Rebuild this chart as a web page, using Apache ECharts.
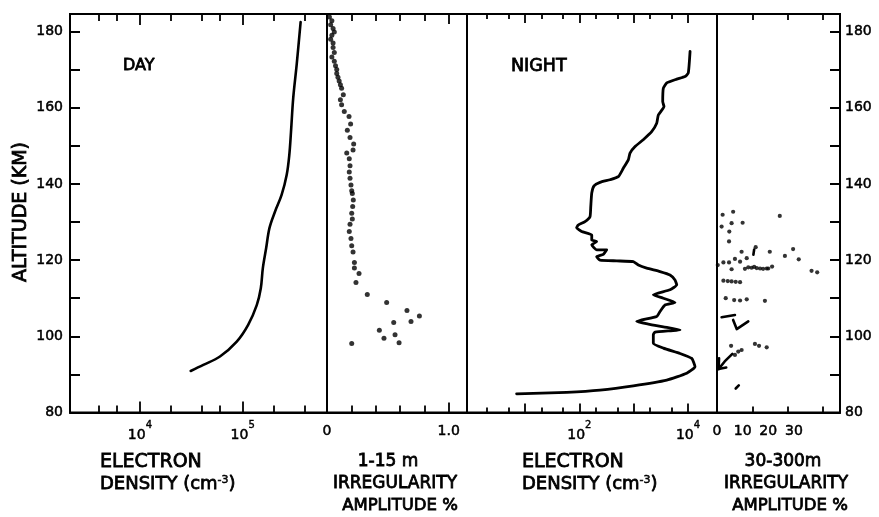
<!DOCTYPE html>
<html>
<head>
<meta charset="utf-8">
<script src="https://cdn.jsdelivr.net/npm/echarts@6/dist/echarts.min.js"></script>
<style>
  html, body { margin: 0; padding: 0; background: #fff; }
  #chart { width: 879px; height: 517px; }
</style>
</head>
<body>
<div id="chart"></div>
<script>
// ---- Altitude axis (km), shared by all four panels ----
const altitudeRange = [80, 184.6];
const altitudeTicks = [80, 90, 100, 110, 120, 130, 140, 150, 160, 170, 180];
const altitudeLabels = [80, 100, 120, 140, 160, 180];

// ---- Panel 1: daytime electron density (cm^-3) ----
const dayAltitude = [182.5, 171.3, 162.5, 153.7, 147.6, 142.4, 137.1, 132.7, 128.4, 123.1, 117.9, 112.6, 108.2, 103.0, 98.6, 94.7, 92.5, 90.9];
const dayDensity  = [3.66e5, 3.35e5, 3.10e5, 2.95e5, 2.84e5, 2.68e5, 2.39e5, 2.06e5, 1.82e5, 1.69e5, 1.57e5, 1.50e5, 1.37e5, 1.13e5, 8.75e4, 6.01e4, 4.14e4, 3.12e4];
const dayLogRange = [3.32, 5.82];
const dayMajorTicks = [1e4, 1e5];
const dayMinorTicks = [4e3, 6e3, 2e4, 4e4, 6e4, 2e5, 4e5];
const dayDecadeLabels = [4, 5];

// ---- Panel 2: 1-15 m irregularity amplitude (%), daytime ----
const smallAmpAltitude = [183.8, 182.8, 181.8, 180.8, 179.9, 179.0, 178.0, 177.0, 175.8, 174.5, 173.3, 172.2, 171.0, 170.0, 169.0, 168.0, 167.0, 166.0, 165.1,
  163.4, 162.1, 160.8, 159.0, 157.7, 155.7, 154.1, 152.2, 150.5, 148.9, 148.1, 146.6, 144.8, 143.1, 141.5, 139.7, 138.2, 137.5, 135.8, 134.1, 132.3, 130.8,
  129.4, 127.5, 125.7, 123.8, 122.1, 119.4, 117.9, 116.5, 114.1, 111.0, 108.9, 106.8, 105.3, 103.9, 103.6, 101.6, 100.4, 99.5, 98.3, 98.1];
const smallAmpPercent = [0.02, 0.04, 0.03, 0.05, 0.06, 0.04, 0.03, 0.05, 0.05, 0.06, 0.04, 0.06, 0.07, 0.08, 0.08, 0.09, 0.10, 0.11, 0.12,
  0.134, 0.11, 0.12, 0.142, 0.181, 0.194, 0.167, 0.189, 0.219, 0.214, 0.162, 0.183, 0.189, 0.183, 0.189, 0.197, 0.203, 0.208, 0.216, 0.211, 0.203, 0.208,
  0.189, 0.183, 0.197, 0.203, 0.214, 0.225, 0.225, 0.263, 0.238, 0.331, 0.490, 0.657, 0.759, 0.690, 0.548, 0.430, 0.559, 0.468, 0.592, 0.203];
const smallAmpRange = [0, 1.15];
const smallAmpMajorTicks = [1.0];
const smallAmpMinorTicks = [0.2, 0.4, 0.6, 0.8];
const smallAmpLabels = [0, 1.0];

// ---- Panel 3: night-time electron density (cm^-3) ----
const nightAltitude = [174.8, 169.1, 168.2, 167.5, 166.5, 165.1, 161.6, 160.3, 158.1, 155.9, 153.7, 151.6, 149.8, 148.1, 146.3, 144.1, 141.9, 141.1, 140.4,
  139.5, 137.6, 134.0, 131.4, 130.1, 129.2, 128.5, 127.5, 126.6, 125.3, 124.9, 124.0, 122.7, 122.7, 121.5, 120.9, 120.0, 119.8, 119.6, 118.7, 117.9,
  117.0, 116.1, 114.8, 113.5, 112.2, 110.9, 110.0, 108.9, 108.2, 106.5, 105.2, 103.9, 103.2, 102.5, 101.7, 101.1, 100.4, 98.2, 96.9, 95.5, 94.2,
  92.0, 90.3, 88.5, 87.0, 85.9, 85.3, 85.0, 84.9];
const nightDensity = [10900, 10100, 8800, 6200, 4060, 3510, 3420, 3610, 2840, 2650, 2140, 1500, 1060, 855, 796, 644, 521, 366, 240,
  186, 169, 162, 157, 127, 95, 89, 110, 169, 169, 208, 169, 208, 318, 276, 208, 240, 487, 984, 1216, 1734,
  3048, 4656, 5754, 6194, 4656, 2296, 3508, 5754, 3767, 3048, 2655, 1135, 1858, 3508, 7112, 2466, 2296, 2296, 3508, 7112, 11700,
  13430, 9460, 4060, 984, 240, 58.5, 14.2, 7.0];
const nightLogRange = [-0.068, 4.533];
const nightMajorTicks = [10, 100, 1000, 10000];
const nightMinorTicks = [2, 5, 20, 50, 200, 500, 2000, 5000];
const nightDecadeLabels = [2, 4];

// ---- Panel 4: 30-300 m irregularity amplitude (%), night-time ----
const largeAmpAltitude = [131.9, 132.7, 131.6, 128.8, 129.7, 129.8, 127.5, 124.9, 123.4, 122.2, 122.2, 120.5, 120.3, 119.6, 119.4, 119.4, 118.7,
  117.6, 117.7, 118.1, 118.0, 118.2, 117.9, 117.8, 117.7, 117.8, 117.8, 118.3, 121.1, 122.9, 120.2, 117.2, 116.8, 114.6, 114.5, 114.4, 114.3, 114.2,
  110.0, 109.5, 109.4, 109.7, 109.3, 97.5, 98.0, 97.5, 97.1, 96.0, 96.4, 95.1];
const largeAmpPercent = [2.2, 6.3, 24.5, 1.8, 5.7, 10.0, 4.8, 4.7, 15.1, 20.6, 9.6, 11.6, 7.0, 9.0, 2.5, 4.7, 0.3,
  5.7, 10.9, 12.2, 13.5, 14.5, 15.5, 16.8, 18.0, 19.4, 20.0, 21.5, 26.5, 29.7, 31.9, 36.9, 39.1, 2.5, 4.2, 5.7, 7.3, 9.0,
  3.4, 6.7, 9.0, 11.6, 18.7, 5.5, 14.8, 16.4, 19.4, 8.3, 9.6, 7.0];
// short hand-drawn strokes in the same panel: [percent, altitude] vertices
const largeAmpStrokes = [
  [[1.8, 105.0], [7.0, 105.6]],
  [[6.3, 104.3], [7.7, 101.9], [12.2, 103.9]],
  [[6.0, 95.4], [3.0, 93.4], [0.6, 91.4]],
  [[0.8, 94.2], [0.6, 91.4], [3.6, 91.8]],
  [[7.3, 86.3], [8.5, 87.1]],
  [[14.5, 122.8], [14.2, 121.4]]
];
const largeAmpRange = [0, 48];
const largeAmpTicks = [14.0, 27.7, 41.3];
const largeAmpLabels = [0, 10, 20, 30];

// ---- styling ----
const INK = '#000';
const FONT = 'DejaVu Sans';
const panels = [
  { left: 70, width: 257 },
  { left: 327, width: 140 },
  { left: 467, width: 250 },
  { left: 717, width: 123 }
];
const log10 = v => Math.log10(v);

const labelBase = { fontFamily: FONT, fontSize: 14, color: INK, textBorderColor: INK, textBorderWidth: 0.5 };
const powerRich = {
  b: { fontFamily: FONT, fontSize: 14, color: INK, textBorderColor: INK, textBorderWidth: 0.5, lineHeight: 22, verticalAlign: 'bottom' },
  s: { fontFamily: FONT, fontSize: 10, color: INK, textBorderColor: INK, textBorderWidth: 0.4, verticalAlign: 'top' }
};

// one axis per tick family; the frame-side axes also draw the panel edge
function tickAxis(gridIndex, range, position, ticks, length, withLine, label) {
  const axis = {
    type: 'value', gridIndex, position, min: range[0], max: range[1],
    axisLine: { show: withLine, onZero: false, lineStyle: { color: INK, width: 2 } },
    splitLine: { show: false },
    axisTick: { show: true, inside: true, length, customValues: ticks, lineStyle: { color: INK, width: 1.8 } },
    axisLabel: { show: false }
  };
  if (label) axis.axisLabel = Object.assign({ show: true, margin: 12 }, labelBase, label);
  return axis;
}

const xAxis = [
  // panel 1 (indices 0-3)
  tickAxis(0, dayLogRange, 'bottom', dayMajorTicks.map(log10), 11, true, {
    customValues: dayDecadeLabels, formatter: v => '{b|10}{s|' + Math.round(v) + '}', rich: powerRich, margin: 8 }),
  tickAxis(0, dayLogRange, 'bottom', dayMinorTicks.map(log10), 7, false),
  tickAxis(0, dayLogRange, 'top', dayMajorTicks.map(log10), 11, true),
  tickAxis(0, dayLogRange, 'top', dayMinorTicks.map(log10), 7, false),
  // panel 2 (indices 4-7)
  tickAxis(1, smallAmpRange, 'bottom', smallAmpMajorTicks, 10, true, {
    customValues: smallAmpLabels, formatter: v => (v === 0 ? '0' : v.toFixed(1)) }),
  tickAxis(1, smallAmpRange, 'bottom', smallAmpMinorTicks, 7, false),
  tickAxis(1, smallAmpRange, 'top', smallAmpMajorTicks, 10, true),
  tickAxis(1, smallAmpRange, 'top', smallAmpMinorTicks, 7, false),
  // panel 3 (indices 8-11)
  tickAxis(2, nightLogRange, 'bottom', nightMajorTicks.map(log10), 9, true, {
    customValues: nightDecadeLabels, formatter: v => '{b|10}{s|' + Math.round(v) + '}', rich: powerRich, margin: 8 }),
  tickAxis(2, nightLogRange, 'bottom', nightMinorTicks.map(log10), 5, false),
  tickAxis(2, nightLogRange, 'top', nightMajorTicks.map(log10), 9, true),
  tickAxis(2, nightLogRange, 'top', nightMinorTicks.map(log10), 5, false),
  // panel 4 (indices 12-13)
  tickAxis(3, largeAmpRange, 'bottom', largeAmpTicks, 6, true, {
    customValues: largeAmpLabels, formatter: v => String(v) }),
  tickAxis(3, largeAmpRange, 'top', largeAmpTicks, 6, true)
];

function altitudeAxis(gridIndex, position, visible) {
  const axis = {
    type: 'value', gridIndex, position, min: altitudeRange[0], max: altitudeRange[1],
    splitLine: { show: false },
    axisLine: { show: true, onZero: false, lineStyle: { color: INK, width: 2 } },
    axisTick: { show: false },
    axisLabel: { show: false }
  };
  if (visible) {
    axis.axisTick = { show: true, inside: true, length: 10, customValues: altitudeTicks.slice(), lineStyle: { color: INK, width: 2 } };
    axis.axisLabel = Object.assign({ show: true, customValues: altitudeLabels.slice(), margin: position === 'left' ? 7 : 5 }, labelBase);
  }
  return axis;
}
const yAxis = [
  altitudeAxis(0, 'left', true),
  altitudeAxis(1, 'left', false),
  altitudeAxis(2, 'left', false),
  altitudeAxis(3, 'right', true)
];

const grid = panels.map(p => ({
  left: p.left, width: p.width, top: 14, height: 398.5,
  show: true, borderColor: INK, borderWidth: 2, backgroundColor: 'transparent'
}));

const lineStyle = w => ({ color: INK, width: w, cap: 'round', join: 'round' });

const series = [
  {
    type: 'line', xAxisIndex: 0, yAxisIndex: 0, showSymbol: false, smooth: 0.35,
    lineStyle: lineStyle(2.6), silent: true,
    data: dayAltitude.map((a, i) => [log10(dayDensity[i]), a])
  },
  {
    type: 'scatter', xAxisIndex: 4, yAxisIndex: 1, symbolSize: 5, silent: true,
    itemStyle: { color: INK },
    data: smallAmpAltitude.map((a, i) => [smallAmpPercent[i], a])
  },
  {
    type: 'line', xAxisIndex: 8, yAxisIndex: 2, showSymbol: false, smooth: 0.15,
    lineStyle: lineStyle(2.8), silent: true,
    data: nightAltitude.map((a, i) => [log10(nightDensity[i]), a])
  },
  {
    type: 'scatter', xAxisIndex: 12, yAxisIndex: 3, symbolSize: 4.2, silent: true,
    itemStyle: { color: INK },
    data: largeAmpAltitude.map((a, i) => [largeAmpPercent[i], a])
  }
].concat(largeAmpStrokes.map(stroke => ({
  type: 'line', xAxisIndex: 12, yAxisIndex: 3, showSymbol: false, silent: true,
  lineStyle: lineStyle(2.6), data: stroke
})));

// ---- lettering: panel tags, axis titles (uniform medium-weight lettering) ----
const LETTER_STROKE = 0.8;
const supRich = {
  t: { fontFamily: FONT, fontSize: 18, fill: INK, stroke: INK, lineWidth: LETTER_STROKE },
  s: { fontFamily: FONT, fontSize: 11, fill: INK, stroke: INK, lineWidth: 0.5, verticalAlign: 'top' }
};
function caption(x, y, text, align, size) {
  return { type: 'text', x, y, silent: true,
    style: { fontFamily: FONT, fontSize: size, fill: INK, stroke: INK, lineWidth: LETTER_STROKE,
      text, align: align || 'left', verticalAlign: 'middle', rich: supRich } };
}

const graphic = [
  caption(123, 66, 'DAY', 'left', 16),
  caption(511, 66, 'NIGHT', 'left', 17.5),
  { type: 'text', x: 21, y: 212, rotation: Math.PI / 2, silent: true,
    style: { fontFamily: FONT, fontSize: 19, fill: INK, stroke: INK, lineWidth: LETTER_STROKE,
      text: 'ALTITUDE (KM)', align: 'center', verticalAlign: 'middle' } },
  caption(100, 462, 'ELECTRON', 'left', 19),
  caption(100, 484, '{t|DENSITY (cm}{s|-3}{t|)}', 'left', 18),
  caption(388, 462, '1-15 m', 'center', 17),
  caption(395, 484, 'IRREGULARITY', 'center', 17),
  caption(400, 506, 'AMPLITUDE %', 'center', 16.5),
  caption(522, 462, 'ELECTRON', 'left', 19),
  caption(522, 484, '{t|DENSITY (cm}{s|-3}{t|)}', 'left', 18),
  caption(783, 462, '30-300m', 'center', 17),
  caption(786, 484, 'IRREGULARITY', 'center', 17),
  caption(790, 506, 'AMPLITUDE %', 'center', 16.5)
];

const chart = echarts.init(document.getElementById('chart'));
chart.setOption({
  animation: false,
  backgroundColor: '#fff',
  grid, xAxis, yAxis, series, graphic
});
</script>
</body>
</html>
